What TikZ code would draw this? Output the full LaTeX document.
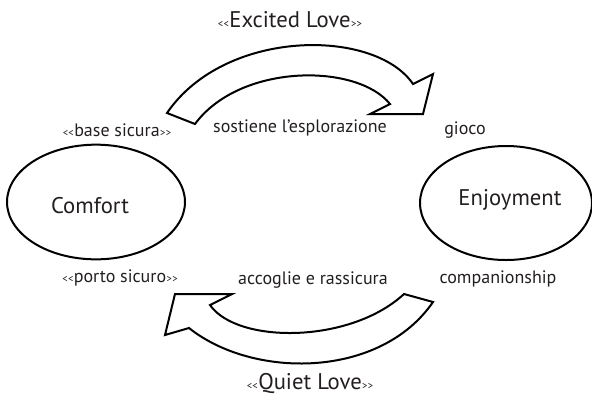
\documentclass[tikz,border=0pt]{standalone}
\usepackage{fontspec}
\setmainfont{PT Sans}
\usetikzlibrary{shapes.geometric}
\definecolor{txt}{RGB}{35,31,32}
\newcommand{\gll}{{\fontsize{8}{8}\selectfont<\kern0.2pt{}<\kern0.3pt}}
\newcommand{\grr}{{\fontsize{8}{8}\selectfont\kern0.3pt>\kern0.2pt{}>}}
\tikzset{
  oval/.style={ellipse, draw=black, line width=1.5pt, inner sep=0pt},
  big/.style={text=txt, font=\fontsize{17}{20}\selectfont, inner sep=0pt},
  lbl/.style={text=txt, font=\fontsize{13.5}{16}\selectfont, inner sep=0pt},
  blockarrow/.style={draw=black, fill=white, line width=1.5pt, line join=miter}
}
\begin{document}
\begin{tikzpicture}[x=0.75pt,y=-0.75pt]
\useasboundingbox (0,0) rectangle (592,394);
% ellipses
\node[oval, minimum width=133.5pt, minimum height=86pt] (comfort) at (96,202) {};
\node[oval, minimum width=129pt, minimum height=85.5pt] (enjoy) at (506,203) {};
\node[big] (comforttxt) at (90,206) {Comfort};
\node[big] (enjoytxt) at (510,200) {Enjoyment};
% top arrow
\coordinate (tA) at (167,113);
\coordinate (tB) at (413,84);
\coordinate (tC) at (433,74);
\coordinate (tD) at (423,114);
\coordinate (tE) at (370,114);
\coordinate (tF) at (390,104);
\coordinate (tG) at (195,124);
\draw[blockarrow] (tA) .. controls (225,28) and (375,28) .. (tB) -- (tC) -- (tD) -- (tE) -- (tF)
  .. controls (357,63) and (240,63) .. (tG) -- cycle;
% bottom arrow
\coordinate (bA) at (404,294);
\coordinate (bB) at (433,302);
\coordinate (bC) at (189,328);
\coordinate (bD) at (165,335);
\coordinate (bE) at (175,294);
\coordinate (bF) at (232,294);
\coordinate (bG) at (210,305);
\draw[blockarrow] (bA) -- (bB) .. controls (380,379) and (253,379) .. (bC) -- (bD) -- (bE) -- (bF) -- (bG)
  .. controls (237,344) and (350,344) .. (bA) -- cycle;
% labels
\node[big] (excited) at (290,20) {\gll Excited Love\grr};
\node[big] (quiet) at (310,383) {\gll Quiet Love\grr};
\node[lbl] (base) at (117,130) {\gll base sicura\grr};
\node[lbl] (porto) at (120,278) {\gll porto sicuro\grr};
\node[lbl] (sostiene) at (300,128) {sostiene l’esplorazione};
\node[lbl] (accoglie) at (313,280) {accoglie e rassicura};
\node[lbl] (gioco) at (465,130) {gioco};
\node[lbl] (comp) at (498,279) {companionship};
\end{tikzpicture}
\end{document}
